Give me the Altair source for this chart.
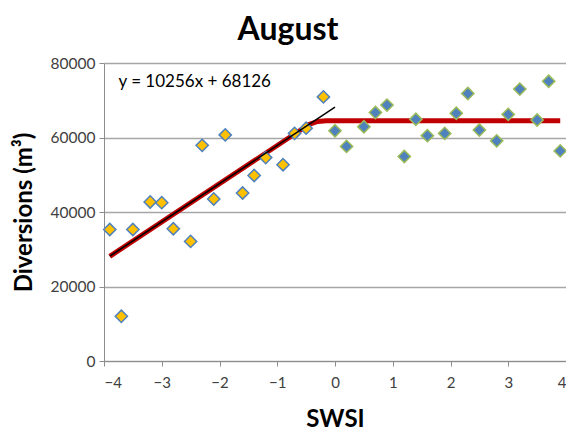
import altair as alt
import pandas as pd

# Data
swsi_dry = [-3.9, -3.7, -3.5, -3.2, -3.0, -2.8, -2.5, -2.3, -2.1, -1.9, -1.6, -1.4, -1.2, -0.9, -0.7, -0.5, -0.2]
div_dry = [35300, 12000, 35300, 42700, 42500, 35500, 32100, 57900, 43500, 60700, 45100, 49800, 54600, 52700, 61100, 62500, 70900]
swsi_wet = [0.0, 0.2, 0.5, 0.7, 0.9, 1.2, 1.4, 1.6, 1.9, 2.1, 2.3, 2.5, 2.8, 3.0, 3.2, 3.5, 3.7, 3.9]
div_wet = [61800, 57600, 62900, 66700, 68700, 54900, 64900, 60500, 61100, 66500, 71800, 62000, 59100, 66200, 73000, 64700, 75100, 56400]

# piecewise fit (red) and linear trend (black)
red_x = [-3.9, -0.45, -0.3, -0.15, 3.9]
red_y = [28100, 63500, 64300, 64500, 64500]
trend_x = [-3.9, 0.0]
trend_y = [28126, 68126]
eq_label = ["y = 10256x + 68126"]
eq_x = [-3.75]
eq_y = [75000]

FONT = "Lato"

dry = pd.DataFrame({"SWSI": swsi_dry, "Div": div_dry})
wet = pd.DataFrame({"SWSI": swsi_wet, "Div": div_wet})
red = pd.DataFrame({"SWSI": red_x, "Div": red_y})
trend = pd.DataFrame({"SWSI": trend_x, "Div": trend_y})
eq = pd.DataFrame({"SWSI": eq_x, "Div": eq_y, "label": eq_label})

xscale = alt.Scale(domain=[-4, 4], nice=False, zero=False)
yscale = alt.Scale(domain=[0, 80000], nice=False)

xenc = alt.X("SWSI:Q", scale=xscale,
             axis=alt.Axis(title="SWSI", values=[-4, -3, -2, -1, 0, 1, 2, 3, 4], format="d", grid=False,
                           tickSize=5, tickColor="#8c8c8c", domainColor="#8c8c8c",
                           labelFontSize=15, labelColor="#404040", labelPadding=9,
                           titleFontSize=24, titleFontWeight="bold", titleColor="#000000",
                           titlePadding=17, labelFont=FONT, titleFont=FONT))
yenc = alt.Y("Div:Q", scale=yscale,
             axis=alt.Axis(title="Diversions (m³)", values=list(range(0, 80001, 10000)),
                           format="d", grid=True, gridColor="#a6a6a6", gridWidth=1.3,
                           tickSize=5, tickColor="#8c8c8c", domainColor="#8c8c8c",
                           labelFontSize=15.5, labelColor="#404040", labelPadding=4,
                           titleFontSize=24, titleFontWeight="bold", titleColor="#000000",
                           titlePadding=14, labelFont=FONT, titleFont=FONT))

red_line = alt.Chart(red).mark_line(color="#c00000", strokeWidth=5).encode(x=xenc, y=yenc)
trend_line = alt.Chart(trend).mark_line(color="#000000", strokeWidth=1.5).encode(x="SWSI:Q", y="Div:Q")
pts_dry = alt.Chart(dry).mark_point(shape="diamond", size=150, filled=True, fill="#ffc000",
                                    stroke="#4f81bd", strokeWidth=1.5, opacity=1).encode(x="SWSI:Q", y="Div:Q")
pts_wet = alt.Chart(wet).mark_point(shape="diamond", size=150, filled=True, fill="#4f81bd",
                                    stroke="#9bbb59", strokeWidth=1.5, opacity=1).encode(x="SWSI:Q", y="Div:Q")
eq_text = alt.Chart(eq).mark_text(align="left", baseline="middle", fontSize=17, font=FONT,
                                  color="#000000").encode(x="SWSI:Q", y="Div:Q", text="label:N")

chart = alt.layer(red_line, pts_dry, pts_wet, trend_line, eq_text).properties(
    width=462, height=298,
    title=alt.TitleParams("August", fontSize=32, fontWeight="bold", font=FONT, color="#000000",
                          anchor="middle", dx=-47, offset=9),
    autosize=alt.AutoSizeParams(type="none"),
    padding={"left": 96, "top": 55, "right": 0, "bottom": 72},
).configure_view(stroke=None)

chart.save("out.html", embed_options={"renderer": "svg", "actions": False})
